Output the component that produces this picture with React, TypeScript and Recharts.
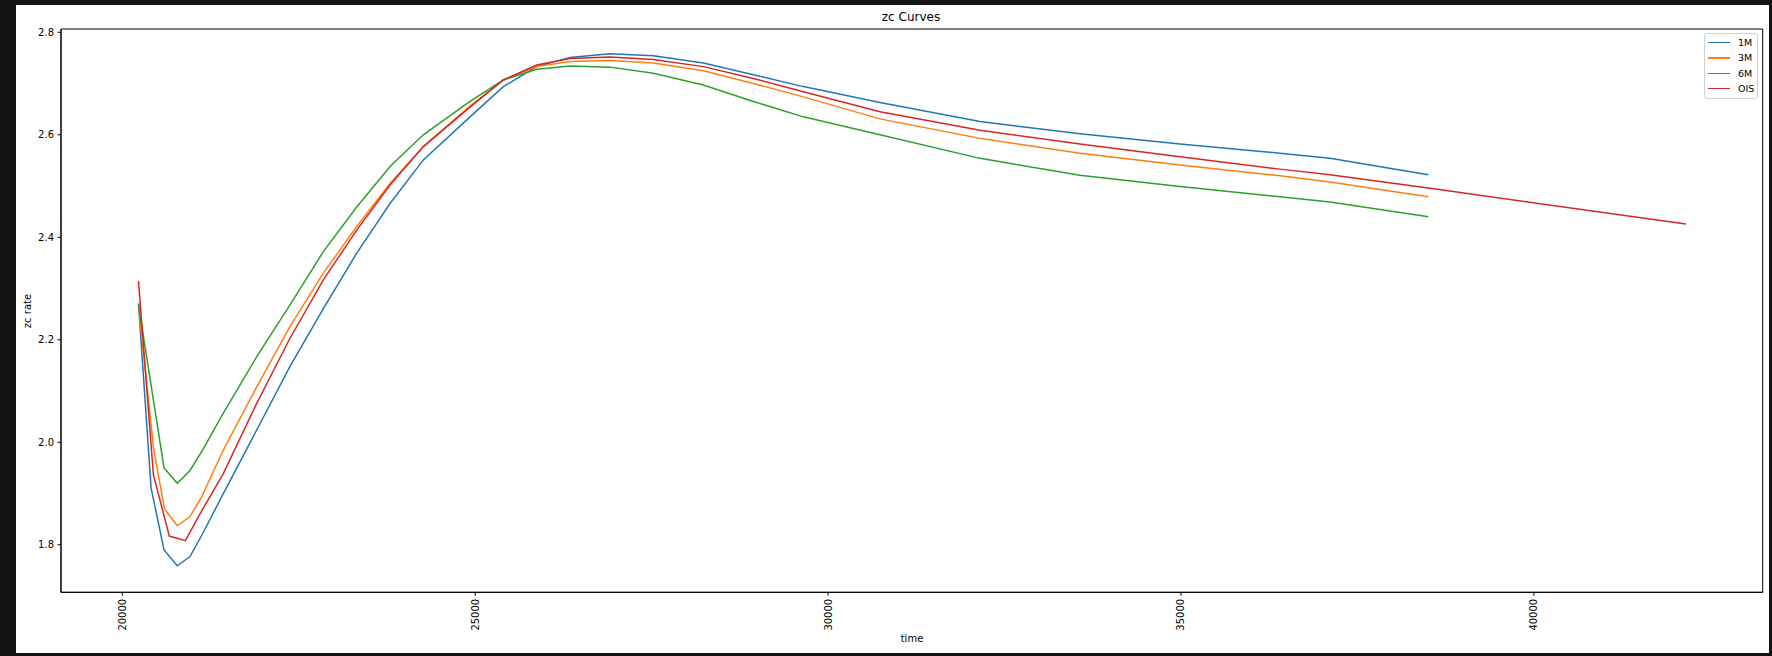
import React from "react";
import { LineChart, Line, XAxis, YAxis, ReferenceArea } from "recharts";

// ---- data ----
const seriesNames = ["1M", "3M", "6M", "OIS"];
const seriesColors = ["#1f77b4", "#ff7f0e", "#2ca02c", "#d62728"];

const time1M = [20229, 20407, 20591, 20779, 20959, 21139, 21431, 21904, 22376, 22848, 23321, 23793, 24265, 24926, 25398, 25871, 26343, 26910, 27524, 28232, 28941, 29649, 30735, 32152, 33569, 34986, 36403, 37111, 38504];
const rate1M = [2.271, 1.911, 1.790, 1.759, 1.777, 1.822, 1.900, 2.024, 2.148, 2.261, 2.369, 2.466, 2.551, 2.635, 2.694, 2.733, 2.751, 2.758, 2.754, 2.740, 2.717, 2.694, 2.663, 2.626, 2.602, 2.582, 2.564, 2.554, 2.522];

const time3M = [20229, 20440, 20597, 20779, 20959, 21125, 21431, 21904, 22376, 22848, 23321, 23793, 24265, 24926, 25398, 25871, 26343, 26910, 27524, 28232, 28941, 29649, 30735, 32152, 33569, 34986, 36403, 37111, 38504];
const rate3M = [2.268, 1.990, 1.870, 1.837, 1.855, 1.894, 1.985, 2.108, 2.226, 2.330, 2.421, 2.505, 2.577, 2.656, 2.707, 2.733, 2.743, 2.745, 2.740, 2.725, 2.700, 2.674, 2.631, 2.593, 2.564, 2.541, 2.520, 2.508, 2.479];

const time6M = [20229, 20591, 20779, 20959, 21139, 21431, 21904, 22376, 22848, 23321, 23793, 24265, 24926, 25398, 25871, 26343, 26910, 27524, 28232, 28941, 29649, 30735, 32152, 33569, 34986, 36403, 37111, 38504];
const rate6M = [2.268, 1.950, 1.920, 1.945, 1.985, 2.057, 2.167, 2.268, 2.372, 2.459, 2.538, 2.600, 2.665, 2.707, 2.728, 2.734, 2.732, 2.720, 2.697, 2.665, 2.635, 2.600, 2.554, 2.521, 2.499, 2.479, 2.469, 2.440];

const timeOIS = [20229, 20440, 20666, 20893, 21091, 21431, 21904, 22376, 22848, 23321, 23793, 24265, 24926, 25398, 25871, 26343, 26910, 27524, 28232, 28941, 29649, 30735, 32152, 33569, 34986, 36403, 37111, 38504, 42155];
const rateOIS = [2.315, 1.937, 1.817, 1.808, 1.858, 1.939, 2.076, 2.203, 2.317, 2.414, 2.502, 2.577, 2.654, 2.707, 2.736, 2.749, 2.752, 2.747, 2.733, 2.710, 2.684, 2.645, 2.609, 2.582, 2.557, 2.533, 2.522, 2.496, 2.426];

const xTicks = [20000, 25000, 30000, 35000, 40000];
const yTicks = [1.8, 2.0, 2.2, 2.4, 2.6, 2.8];

const X_DOMAIN: [number, number] = [19131, 43242];
const Y_DOMAIN: [number, number] = [1.7073, 2.8064];

const zip = (t: number[], r: number[]) => t.map((x, i) => ({ t: x, r: r[i] }));
const seriesData = [zip(time1M, rate1M), zip(time3M, rate3M), zip(time6M, rate6M), zip(timeOIS, rateOIS)];

const FONT = "'DejaVu Sans', sans-serif";

const XTick = (props: any) => {
  const { x, y, payload } = props;
  return (
    <text
      x={x}
      y={y}
      transform={`rotate(-90 ${x} ${y})`}
      textAnchor="end"
      dominantBaseline="central"
      fontSize={10}
      fontFamily={FONT}
      fill="#000"
    >
      {payload.value}
    </text>
  );
};

export default function App() {
  return (
    <div style={{ position: "fixed", left: 0, top: 0, width: 1772, height: 656, background: "#141414", fontFamily: FONT }}>
      <div style={{ position: "absolute", left: 16, top: 5, width: 1753, height: 648, background: "#fff" }} />
      <div style={{ position: "absolute", left: 0, top: 0 }}>
        <LineChart width={1772} height={656} margin={{ top: 29, right: 9.3, left: 16, bottom: 3.7 }}>
          <XAxis
            type="number"
            dataKey="t"
            domain={X_DOMAIN}
            allowDataOverflow
            ticks={xTicks}
            tick={<XTick />}
            tickSize={3.5}
            tickMargin={3}
            height={60}
            axisLine={{ stroke: "#000" }}
            tickLine={{ stroke: "#000" }}
            interval={0}
          />
          <YAxis
            type="number"
            domain={Y_DOMAIN}
            allowDataOverflow
            ticks={yTicks}
            tickFormatter={(v: number) => v.toFixed(1)}
            tick={{ fontSize: 10, fontFamily: FONT, fill: "#000" }}
            tickSize={3.5}
            tickMargin={3.5}
            width={45}
            axisLine={{ stroke: "#000" }}
            tickLine={{ stroke: "#000" }}
            interval={0}
          />
          <ReferenceArea
            x1={X_DOMAIN[0]}
            x2={X_DOMAIN[1]}
            y1={Y_DOMAIN[0]}
            y2={Y_DOMAIN[1]}
            fill="none"
            fillOpacity={0}
            stroke="#000"
            strokeWidth={1}
            strokeOpacity={1}
          />
          {seriesData.map((d, i) => (
            <Line
              key={seriesNames[i]}
              data={d}
              dataKey="r"
              name={seriesNames[i]}
              type="linear"
              stroke={seriesColors[i]}
              strokeWidth={1.5}
              dot={false}
              activeDot={false}
              isAnimationActive={false}
            />
          ))}
        </LineChart>
      </div>
      <div style={{ position: "absolute", left: 811, width: 200, top: 10, textAlign: "center", fontSize: 12, color: "#000" }}>zc Curves</div>
      <div style={{ position: "absolute", left: 862, width: 100, top: 633, textAlign: "center", fontSize: 10, color: "#000" }}>time</div>
      <div
        style={{
          position: "absolute",
          left: 27.7 - 50,
          width: 100,
          top: 311 - 7,
          height: 14,
          lineHeight: "14px",
          textAlign: "center",
          fontSize: 10,
          color: "#000",
          transform: "rotate(-90deg)",
        }}
      >
        zc rate
      </div>
      <div
        style={{
          position: "absolute",
          left: 1704,
          top: 33,
          width: 52,
          height: 64,
          border: "1px solid #d0d0d0",
          borderRadius: 3,
          background: "rgba(255,255,255,0.8)",
        }}
      >
        {seriesNames.map((n, i) => (
          <div key={n} style={{ position: "absolute", left: 2, top: 1 + i * 15.4, height: 15, display: "flex", alignItems: "center" }}>
            <div style={{ width: 22, height: 1.5, background: seriesColors[i], marginLeft: 1 }} />
            <span style={{ marginLeft: 8, fontSize: 9.5, color: "#000", lineHeight: "15px" }}>{n}</span>
          </div>
        ))}
      </div>
    </div>
  );
}
